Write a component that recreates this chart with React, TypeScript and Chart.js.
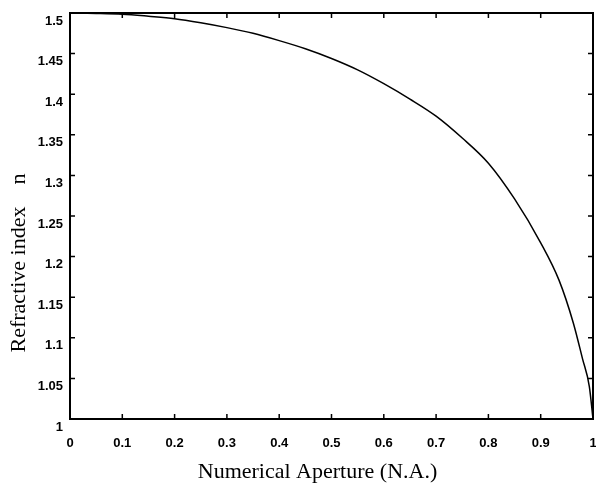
import React, { useEffect, useRef } from "react";
import { Chart, registerables } from "chart.js";

Chart.register(...registerables);

const naValues = [0, 0.05, 0.1, 0.15, 0.2, 0.25, 0.3, 0.35, 0.4, 0.45, 0.5, 0.55, 0.6, 0.65, 0.7, 0.75, 0.8, 0.85, 0.9, 0.935, 0.9625, 0.98, 0.993, 1];
const nValues = [1.5, 1.4995, 1.4985, 1.496, 1.493, 1.488, 1.482, 1.475, 1.466, 1.456, 1.444, 1.43, 1.413, 1.394, 1.373, 1.346, 1.315, 1.271, 1.217, 1.171, 1.118, 1.074, 1.04, 1.0];

const xTitle = "Numerical Aperture (N.A.)";
const yTitle = "Refractive index    n";

const fmt = (v: number | string) => String(+Number(v).toFixed(2));

const framePlugin = {
  id: "frame",
  afterDraw(chart: any) {
    const { ctx, chartArea } = chart;
    const { left, right, top, bottom } = chartArea;
    const xs = chart.scales.x;
    const ys = chart.scales.y;
    ctx.save();
    ctx.strokeStyle = "#000";
    ctx.lineWidth = 2;
    ctx.strokeRect(left, top, right - left, bottom - top);
    ctx.lineWidth = 1.5;
    ctx.beginPath();
    xs.ticks.forEach((t: any) => {
      const px = xs.getPixelForValue(t.value);
      ctx.moveTo(px, bottom);
      ctx.lineTo(px, bottom - 5);
      ctx.moveTo(px, top);
      ctx.lineTo(px, top + 5);
    });
    ys.ticks.forEach((t: any) => {
      const py = ys.getPixelForValue(t.value);
      ctx.moveTo(left, py);
      ctx.lineTo(left + 5, py);
      ctx.moveTo(right, py);
      ctx.lineTo(right - 5, py);
    });
    ctx.stroke();
    ctx.fillStyle = "#000";
    ctx.font = '22px "Liberation Serif", "Times New Roman", serif';
    ctx.textAlign = "center";
    ctx.textBaseline = "alphabetic";
    ctx.fillText(xTitle, (left + right) / 2 - 14, bottom + 59);
    ctx.translate(left - 45, (top + bottom) / 2 + 47);
    ctx.rotate(-Math.PI / 2);
    ctx.fillText(yTitle, 0, 0);
    ctx.restore();
  },
};

export default function App() {
  const ref = useRef<HTMLCanvasElement | null>(null);
  useEffect(() => {
    document.body.style.margin = "0";
    if (!ref.current) return;
    const tickFont = { family: '"Liberation Sans", Arial, sans-serif', size: 13, weight: "bold" as const };
    const chart = new Chart(ref.current, {
      type: "line",
      data: {
        datasets: [
          {
            data: naValues.map((x, i) => ({ x, y: nValues[i] })),
            borderColor: "#000",
            borderWidth: 1.5,
            pointRadius: 0,
            fill: false,
            cubicInterpolationMode: "monotone",
          },
        ],
      },
      options: {
        animation: false,
        responsive: true,
        maintainAspectRatio: false,
        layout: { padding: { top: 13, right: 3, left: 0, bottom: 0 } },
        plugins: { legend: { display: false }, tooltip: { enabled: false } },
        scales: {
          x: {
            type: "linear",
            min: 0,
            max: 1,
            grid: { display: false, drawTicks: false },
            border: { display: false },
            ticks: { stepSize: 0.1, font: tickFont, color: "#000", padding: 17, maxRotation: 0, callback: (v: any) => fmt(v) },
            afterFit: (s: any) => { s.height = 66; s.paddingLeft = 0; s.paddingRight = 0; },
          },
          y: {
            type: "linear",
            min: 1,
            max: 1.5,
            grid: { display: false, drawTicks: false },
            border: { display: false },
            ticks: { stepSize: 0.05, font: tickFont, color: "#000", padding: 7, labelOffset: 8, callback: (v: any) => fmt(v) },
            afterFit: (s: any) => { s.width = 70; s.paddingTop = 0; s.paddingBottom = 0; },
          },
        },
      },
      plugins: [framePlugin],
    });
    return () => chart.destroy();
  }, []);
  return (
    <div style={{ width: 596, height: 485, position: "relative" }}>
      <canvas ref={ref} />
    </div>
  );
}
